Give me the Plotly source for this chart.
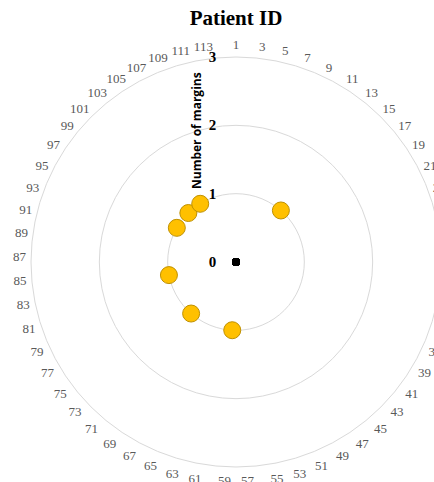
import plotly.graph_objects as go

# ---- data -------------------------------------------------------------
patient_ids = [str(i) for i in range(1, 115)]          # angular categories
tick_labels = [str(i) for i in range(1, 115, 2)]       # labelled patient IDs
# number of positive margins per patient (ID 1 .. 114)
margins = [
    0, 0, 0, 0, 0, 0, 0, 0, 0, 0,   # 1-10
    0, 0, 0, 1, 0, 0, 0, 0, 0, 0,   # 11-20
    0, 0, 0, 0, 0, 0, 0, 0, 0, 0,   # 21-30
    0, 0, 0, 0, 0, 0, 0, 0, 0, 0,   # 31-40
    0, 0, 0, 0, 0, 0, 0, 0, 0, 0,   # 41-50
    0, 0, 0, 0, 0, 0, 0, 0, 1, 0,   # 51-60
    0, 0, 0, 0, 0, 0, 0, 0, 0, 0,   # 61-70
    1, 0, 0, 0, 0, 0, 0, 0, 0, 0,   # 71-80
    0, 0, 1, 0, 0, 0, 0, 0, 0, 0,   # 81-90
    0, 0, 0, 0, 0, 1, 0, 0, 0, 0,   # 91-100
    1, 0, 0, 0, 1, 0, 0, 0, 0, 0,   # 101-110
    0, 0, 0, 0,                     # 111-114
]
radial_ticks = [0, 1, 2, 3]

zero_ids = [p for p, m in zip(patient_ids, margins) if m == 0]
zero_vals = [m for m in margins if m == 0]
pos_ids = [p for p, m in zip(patient_ids, margins) if m > 0]
pos_vals = [m for m in margins if m > 0]

# ---- figure -----------------------------------------------------------
fig = go.Figure()
fig.add_trace(go.Scatterpolar(
    r=zero_vals, theta=zero_ids, mode="markers",
    marker=dict(size=8, color="black"),
    showlegend=False, hoverinfo="skip",
))
fig.add_trace(go.Scatterpolar(
    r=pos_vals, theta=pos_ids, mode="markers",
    marker=dict(size=17, color="#FFC000", line=dict(color="#BF9000", width=1)),
    showlegend=False,
))

W, H = 472, 482
ML, MR, MT, MB = 31, 31, 57, 15
PW, PH = W - ML - MR, H - MT - MB
fig.update_layout(
    width=W, height=H,
    margin=dict(l=ML, r=MR, t=MT, b=MB),
    paper_bgcolor="white",
    title=dict(text="<b>Patient ID</b>", x=0.5, xanchor="center",
               y=1 - 18 / H, yanchor="middle",
               font=dict(family="Liberation Serif", size=21, color="black")),
    polar=dict(
        bgcolor="white",
        domain=dict(x=[0, 1], y=[0, 1]),
        angularaxis=dict(
            type="category", categoryorder="array", categoryarray=patient_ids,
            rotation=90, direction="clockwise",
            tickmode="array", tickvals=tick_labels, ticktext=tick_labels,
            showgrid=False, showline=True, linecolor="#d9d9d9", linewidth=1,
            ticks="outside", ticklen=2, tickcolor="rgba(0,0,0,0)",
            tickfont=dict(family="Liberation Serif", size=13, color="#595959"),
        ),
        radialaxis=dict(
            range=[0, 3], tickmode="array", tickvals=radial_ticks,
            angle=90, side="counterclockwise", tickangle=90,
            showline=False, gridcolor="#d9d9d9", gridwidth=1,
            ticks="outside", ticklen=14, tickcolor="rgba(0,0,0,0)",
            tickfont=dict(family="Liberation Serif", size=15, color="black",
                          weight="bold"),
        ),
    ),
    annotations=[dict(
        text="<b>Number of margins</b>", textangle=-90,
        x=(197 - ML) / PW, y=1 - (131 - MT) / PH, xref="paper", yref="paper",
        xanchor="center", yanchor="middle", showarrow=False,
        font=dict(family="Open Sans", size=12, color="black"),
    )],
)

fig.write_html(
    "out.html",
    config={"displayModeBar": False},
    post_script="document.body.style.margin='0';document.body.style.overflow='hidden';",
)
